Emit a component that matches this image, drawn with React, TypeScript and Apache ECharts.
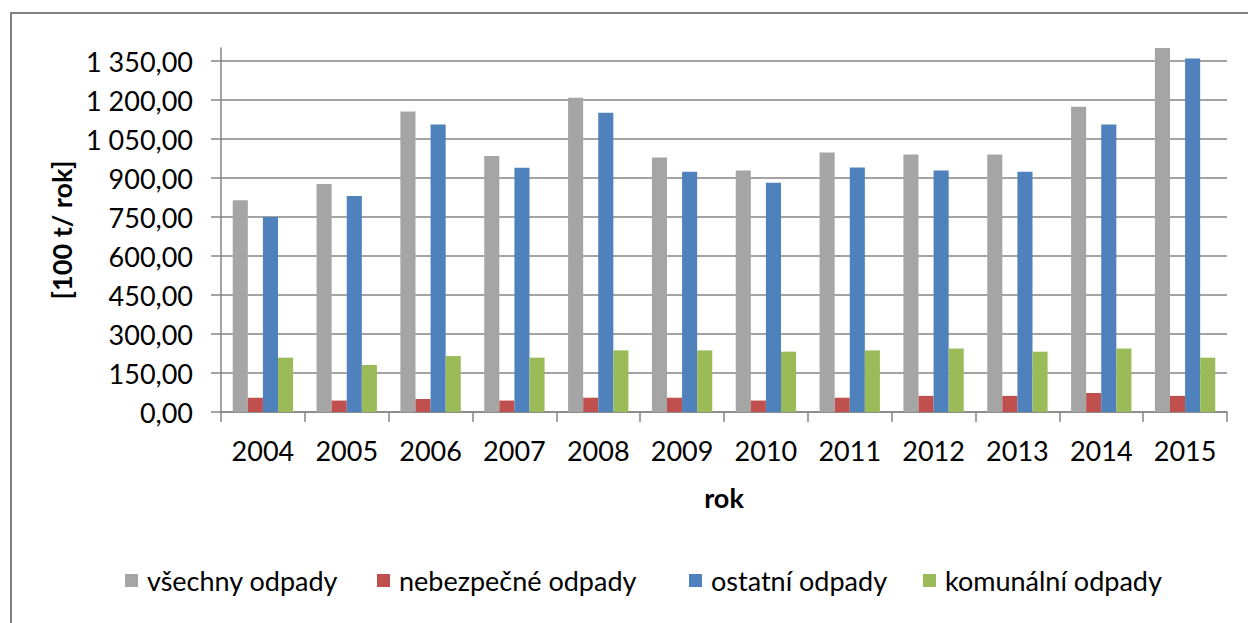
import React, { useEffect, useRef } from "react";
import * as echarts from "echarts";

const years = ["2004", "2005", "2006", "2007", "2008", "2009", "2010", "2011", "2012", "2013", "2014", "2015"];
const vsechny = [814, 877, 1156, 985, 1209, 979, 929, 998, 990, 990, 1174, 1400];
const nebezpecne = [55, 44, 50, 44, 55, 55, 44, 55, 62, 62, 73, 62];
const ostatni = [750, 831, 1106, 939, 1151, 924, 882, 940, 929, 924, 1106, 1360];
const komunalni = [209, 181, 215, 209, 237, 237, 232, 237, 244, 232, 244, 209];
const seriesNames = ["všechny odpady", "nebezpečné odpady", "ostatní odpady", "komunální odpady"];
const colors = ["#A5A5A5", "#C0504D", "#4F81BD", "#9BBB59"];
const legendLefts = [120, 372, 684, 918];

const FONT = "Lato, 'Liberation Sans', sans-serif";

function fmt(v: number): string {
  const s = v.toFixed(2);
  const [i, d] = s.split(".");
  const ii = i.replace(/\B(?=(\d{3})+(?!\d))/g, " ");
  return ii + "," + d;
}

export default function App() {
  const ref = useRef<HTMLDivElement>(null);
  useEffect(() => {
    if (!ref.current) return;
    const chart = echarts.init(ref.current, null, { renderer: "svg" });
    const data = [vsechny, nebezpecne, ostatni, komunalni];
    chart.setOption({
      animation: false,
      backgroundColor: "#ffffff",
      textStyle: { fontFamily: FONT },
      graphic: [
        {
          type: "rect",
          shape: { x: 11, y: 13, width: 1400, height: 800 },
          style: { fill: "none", stroke: "#7f7f7f", lineWidth: 2 },
          silent: true,
        },
      ],
      grid: { left: 221, right: 21, top: 48, bottom: 211, containLabel: false },
      legend: seriesNames.map((n, i) => ({
        left: legendLefts[i],
        top: 562,
        itemWidth: 13,
        itemHeight: 13,
        icon: "rect",
        data: [n],
        textStyle: { fontFamily: FONT, fontSize: 27, color: "#000", padding: [0, 0, 0, 4] },
      })),
      xAxis: {
        type: "category",
        data: years,
        boundaryGap: true,
        name: "rok",
        nameLocation: "middle",
        nameGap: 72,
        nameTextStyle: { fontFamily: FONT, fontSize: 27, fontWeight: "bold", color: "#000" },
        axisLine: { show: true, lineStyle: { color: "#868686", width: 1.5 } },
        axisTick: { show: true, length: 10, alignWithLabel: false, lineStyle: { color: "#868686", width: 1.5 } },
        axisLabel: { fontFamily: FONT, fontSize: 27, color: "#000", margin: 25 },
        splitLine: { show: false },
      },
      yAxis: {
        type: "value",
        min: 0,
        max: 1400,
        interval: 150,
        name: "[100 t/ rok]",
        nameLocation: "middle",
        nameGap: 138,
        nameRotate: 90,
        nameTextStyle: { fontFamily: FONT, fontSize: 27, fontWeight: "bold", color: "#000" },
        axisLine: { show: true, lineStyle: { color: "#868686", width: 1.5 } },
        axisTick: { show: true, length: 10, lineStyle: { color: "#868686", width: 1.5 } },
        axisLabel: {
          fontFamily: FONT,
          fontSize: 27,
          color: "#000",
          margin: 28,
          showMaxLabel: false,
          formatter: (v: number) => (v % 150 === 0 ? fmt(v) : ""),
        },
        splitLine: { show: true, showMaxLine: false, lineStyle: { color: "#868686", width: 1.5 } },
      },
      series: seriesNames.map((n, i) => ({
        name: n,
        type: "bar",
        data: data[i],
        barGap: "0%",
        barCategoryGap: "28%",
        itemStyle: { color: colors[i] },
      })),
    });
    return () => chart.dispose();
  }, []);
  return (
    <div
      ref={ref}
      style={{ position: "fixed", left: 0, top: 0, width: 1248, height: 623 }}
    />
  );
}
